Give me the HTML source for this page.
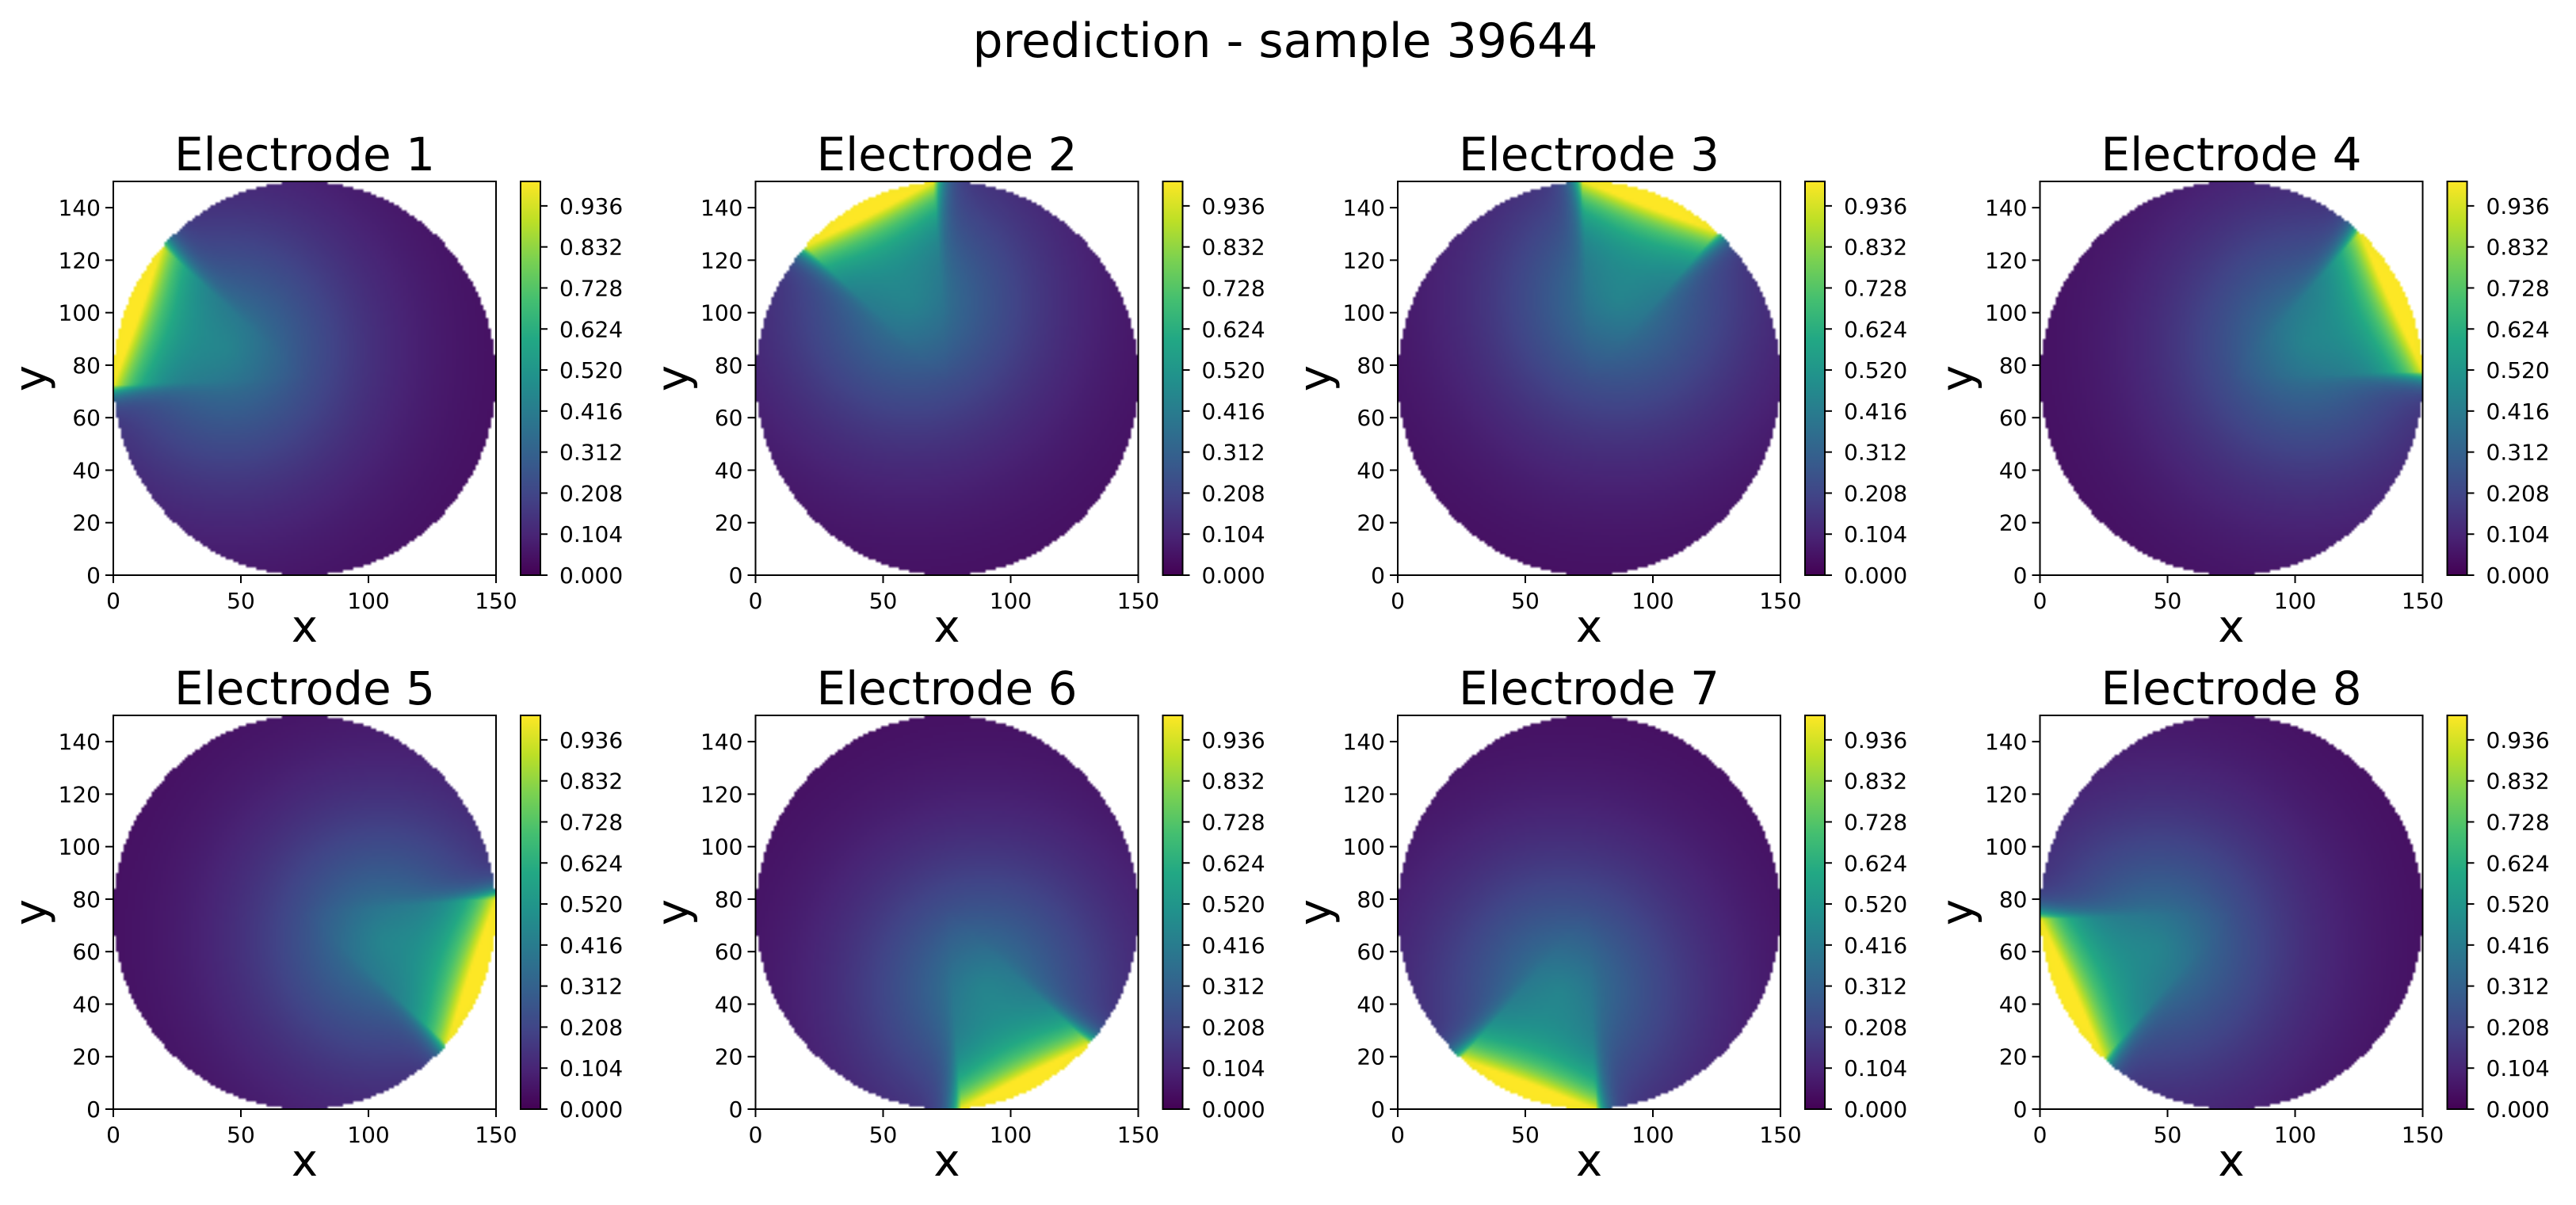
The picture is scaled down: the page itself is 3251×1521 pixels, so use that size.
<!DOCTYPE html>
<html><head><meta charset="utf-8">
<style>
html,body{margin:0;padding:0;background:#fff;}
#wrap{position:relative;width:3251px;height:1521px;overflow:hidden;font-family:"DejaVu Sans","Liberation Sans",sans-serif;}
canvas{position:absolute;}
svg{position:absolute;left:0;top:0;}
</style></head>
<body>
<div id="wrap">
<svg id="ov" width="3251" height="1521"></svg>
</div>
<script>
// ---- data ----
const electrodeNames = ["Electrode 1","Electrode 2","Electrode 3","Electrode 4","Electrode 5","Electrode 6","Electrode 7","Electrode 8"];
const spanStartDeg = [138, 94, 48, 2, -42, -86, -132, 182];
const spanEndDeg   = [182, 138, 92, 48, 4, -42, -88, 228];
const xTicks = [0, 50, 100, 150];
const yTicks = [0, 20, 40, 60, 80, 100, 120, 140];
const cbTicks = [0.000, 0.104, 0.208, 0.312, 0.416, 0.520, 0.624, 0.728, 0.832, 0.936];
const cbMax = 0.998;
const suptitle = "prediction - sample 39644";

// ---- layout ----
const AX_W = 483, AX_H = 497, COL0 = 143, COL_STEP = 810.5, ROWS = [229, 903];
const NS = "http://www.w3.org/2000/svg";
const ov = document.getElementById('ov');
const wrap = document.getElementById('wrap');
function sv(tag, attrs, parent){const e=document.createElementNS(NS,tag);for(const k in attrs)e.setAttribute(k,attrs[k]);(parent||ov).appendChild(e);return e;}

const VIR = [[68,1,84],[72,36,117],[65,68,135],[53,95,141],[42,120,142],[33,145,140],[34,168,132],[68,191,112],[122,209,81],[189,223,38],[253,231,37]];
function viridis(v){v=Math.max(0,Math.min(1,v));const p=v*(VIR.length-1);const i=Math.min(VIR.length-2,Math.floor(p));const f=p-i;const a=VIR[i],b=VIR[i+1];return [a[0]+(b[0]-a[0])*f,a[1]+(b[1]-a[1])*f,a[2]+(b[2]-a[2])*f];}

const xScale = (v,L)=> L + v/150*AX_W;
const yScale = (v,T)=> T + AX_H - v/150*AX_H;
const cbScale = (v,T)=> T + AX_H - v/cbMax*AX_H;

const t0 = sv('text',{x:1622,y:72,'font-size':60,'text-anchor':'middle',fill:'#000'});
t0.textContent = suptitle;



function angOut(a,s,e){ // degrees outside span (0 if inside)
  const d=((a-s)%360+360)%360;
  if(d <= (e-s)) return 0;
  return Math.min(d-(e-s), 360-d);
}

electrodeNames.forEach((name,k)=>{
  const L = COL0 + (k%4)*COL_STEP, T = ROWS[Math.floor(k/4)];
  const g = sv('g',{});
  
  
  const c = document.createElement('canvas');
  c.width=150;c.height=150;
  c.style.left=L+'px';c.style.top=T+'px';c.style.width=AX_W+'px';c.style.height=AX_H+'px';
  
  
  wrap.insertBefore(c, ov);
  const ctx=c.getContext('2d');const img=ctx.createImageData(150,150);
  const s=spanStartDeg[k], e=spanEndDeg[k];
  const sr=s*Math.PI/180, er=e*Math.PI/180, mr=(sr+er)/2, half=(er-sr)/2;
  const mx=Math.cos(mr), my=Math.sin(mr), rc=75*Math.cos(half);
  const px=75+32*mx, py=75+32*my;
  for(let j=0;j<150;j++){for(let i=0;i<150;i++){
    const x=i+0.5, y=149.5-j, dx=x-75, dy=y-75, r=Math.hypot(dx,dy);
    const idx=(j*150+i)*4;
    if(r>75){img.data[idx+3]=0;continue;}
    const a=Math.atan2(dy,dx)*180/Math.PI;
    const d=Math.max(0, rc-(dx*mx+dy*my));
    const ao=angOut(a,s,e);
    const sharp=0.8*Math.exp(-d/14)*Math.exp(-ao*Math.max(r,10)/75/3);
    const dp=Math.hypot(x-px,y-py);
    const v=sharp+0.36*Math.exp(-Math.pow(dp/50,1.5))+0.03;
    const col=viridis(v/cbMax);
    img.data[idx]=col[0];img.data[idx+1]=col[1];img.data[idx+2]=col[2];img.data[idx+3]=255;
  }}
  ctx.putImageData(img,0,0);
  const sp = sv('rect',{x:L,y:T,width:AX_W,height:AX_H,fill:'none',stroke:'#000','stroke-width':2},g);
  
  
  xTicks.forEach(v=>{
    const X=xScale(v,L);
    sv('line',{x1:X,x2:X,y1:T+AX_H,y2:T+AX_H+10,stroke:'#000','stroke-width':2},g);
    const t=sv('text',{x:X,y:T+AX_H+42,'font-size':28,'text-anchor':'middle'},g);
    t.textContent=v;
    
    
  });
  yTicks.forEach(v=>{
    const Y=yScale(v,T);
    sv('line',{x1:L-10,x2:L,y1:Y,y2:Y,stroke:'#000','stroke-width':2},g);
    const t=sv('text',{x:L-16,y:Y+10,'font-size':28,'text-anchor':'end'},g);
    t.textContent=v;
    
    
  });
  const xl=sv('text',{x:L+AX_W/2,y:T+AX_H+84,'font-size':56,'text-anchor':'middle'},g);
  xl.textContent='x';
  
  
  const yx=L-85, yy=T+AX_H/2;
  const yl=sv('text',{x:yx,y:yy,'font-size':56,'text-anchor':'middle',transform:`rotate(-90 ${yx} ${yy})`},g);
  yl.textContent='y';
  
  
  const tt=sv('text',{x:L+AX_W/2,y:T-14,'font-size':58,'text-anchor':'middle'},g);
  tt.textContent=name;
  
  
  const CL=L+514, CW=25;
  const gid='cbg'+k;
  const defs=sv('defs',{},g);
  const lg=sv('linearGradient',{id:gid,x1:0,y1:1,x2:0,y2:0},defs);
  for(let q=0;q<=10;q++){const col=viridis(q/10);sv('stop',{offset:q/10,'stop-color':`rgb(${col.map(Math.round).join(',')})`},lg);}
  const cb=sv('rect',{x:CL,y:T,width:CW,height:AX_H,fill:`url(#${gid})`,stroke:'#000','stroke-width':2},g);
  
  
  cbTicks.forEach(v=>{
    const Y=cbScale(v,T);
    sv('line',{x1:CL+CW,x2:CL+CW+9,y1:Y,y2:Y,stroke:'#000','stroke-width':2},g);
    const t=sv('text',{x:CL+CW+24,y:Y+10,'font-size':28},g);
    t.textContent=v.toFixed(3);
    
    
  });
});
</script>
</body></html>
